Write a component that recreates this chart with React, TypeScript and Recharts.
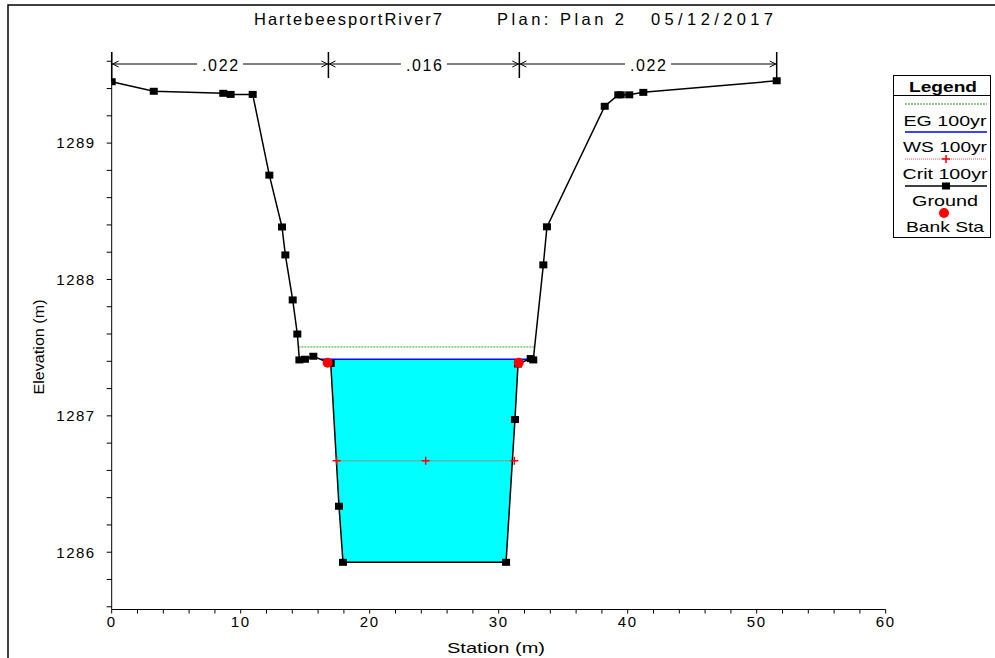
import React from 'react';
import {
  ComposedChart,
  Line,
  Area,
  XAxis,
  YAxis,
  ReferenceLine,
} from 'recharts';

// ground profile (station m, elevation m)
const groundStation = [0, 3.26, 8.65, 9.22, 10.93, 12.22, 13.2, 13.46, 14.03, 14.39, 14.55, 14.98, 15.63, 16.98, 17.62, 17.93, 30.57, 31.26, 31.5, 32.48, 32.68, 33.46, 33.74, 38.22, 39.27, 39.46, 40.12, 41.21, 51.55];
const groundElev = [1289.45, 1289.38, 1289.365, 1289.357, 1289.357, 1288.765, 1288.385, 1288.18, 1287.85, 1287.6, 1287.41, 1287.415, 1287.437, 1287.384, 1286.337, 1285.926, 1285.926, 1286.973, 1287.38, 1287.42, 1287.41, 1288.107, 1288.386, 1289.27, 1289.354, 1289.354, 1289.354, 1289.372, 1289.457];

// water surface, energy grade, critical depth (100yr)
const wsElev = 1287.415;
const wsStation = [16.2, 16.98, 17.62, 17.93, 30.57, 31.26, 31.5, 32.4];
const wsGround = [1287.415, 1287.384, 1286.337, 1285.926, 1285.926, 1286.973, 1287.38, 1287.415];
const egElev = 1287.505;
const egStation = [14.47, 32.79];
const critElev = 1286.67;
const critStation = [17.44, 24.34, 31.21];

// bank stations
const bankStation = [16.74, 31.55];
const bankElev = [1287.39, 1287.39];

// Manning's n regions
const nBreaks = [0, 16.8, 31.6, 51.55];
const nBreakBottom = [1289.45, 1289.477, 1289.477, 1289.46];
const nValues = ['.022', '.016', '.022'];
const nArrowElev = 1289.58;
const nTopElev = 1289.668;

const xTicks = [0, 2, 4, 6, 8, 10, 12, 14, 16, 18, 20, 22, 24, 26, 28, 30, 32, 34, 36, 38, 40, 42, 44, 46, 48, 50, 52, 54, 56, 58, 60];
const yTicks = [1285.6, 1285.8, 1286, 1286.2, 1286.4, 1286.6, 1286.8, 1287, 1287.2, 1287.4, 1287.6, 1287.8, 1288, 1288.2, 1288.4, 1288.6, 1288.8, 1289, 1289.2, 1289.4, 1289.6];

const title = ['HartebeesportRiver7', 'Plan: Plan 2', '05/12/2017'];
const legendItems = ['EG 100yr', 'WS 100yr', 'Crit 100yr', 'Ground', 'Bank Sta'];

const FONT = 'Arial, "Liberation Sans", sans-serif';

const groundData = groundStation.map((x, i) => ({ x, y: groundElev[i] }));
const waterData = wsStation.map((x, i) => ({ x, lo: wsGround[i], hi: wsElev }));
const wsData = [{ x: wsStation[0], y: wsElev }, { x: wsStation[wsStation.length - 1], y: wsElev }];
const egData = egStation.map((x) => ({ x, y: egElev }));
const critData = critStation.map((x) => ({ x, y: critElev }));
const bankData = bankStation.map((x, i) => ({ x, y: bankElev[i] }));

const Square = (props: any) => {
  const { cx, cy, index } = props;
  if (cx == null || cy == null) return null;
  return <rect key={`sq-${index}`} x={cx - 4} y={cy - 3.5} width={8} height={7} fill="#000" />;
};

const Plus = (props: any) => {
  const { cx, cy, index } = props;
  if (cx == null || cy == null) return null;
  return (
    <path
      key={`pl-${index}`}
      d={`M${cx - 4},${cy}H${cx + 4}M${cx},${cy - 4}V${cy + 4}`}
      stroke="#ff0000"
      strokeWidth={1.5}
    />
  );
};

const nArrow = (label: string) => (props: any) => {
  const { x1, y1, x2 } = props;
  const mid = (x1 + x2) / 2;
  return (
    <g>
      <line x1={x1} y1={y1} x2={x2} y2={y1} stroke="#000" strokeWidth={1} />
      <path d={`M${x1 + 7},${y1 - 3}L${x1 + 1},${y1}L${x1 + 7},${y1 + 3}`} fill="none" stroke="#000" strokeWidth={1} />
      <path d={`M${x2 - 7},${y1 - 3}L${x2 - 1},${y1}L${x2 - 7},${y1 + 3}`} fill="none" stroke="#000" strokeWidth={1} />
      <rect x={mid - 23} y={y1 - 8} width={46} height={16} fill="#fff" />
      <text x={mid} y={y1 + 1} textAnchor="middle" dominantBaseline="central" fontFamily={FONT} fontSize={16} textLength={36} lengthAdjust="spacing">
        {label}
      </text>
    </g>
  );
};

const Overlay = () => {
  const lx1 = 905;
  const lx2 = 987;
  const lc = 945;
  const txt = { fontFamily: FONT, fontSize: 15, textAnchor: 'middle' as const, dominantBaseline: 'central' as const, lengthAdjust: 'spacingAndGlyphs' };
  return (
    <svg width={995} height={658} style={{ position: 'absolute', left: 0, top: 0, pointerEvents: 'none' }}>
      <path d="M8,658V5H995" fill="none" stroke="#000" strokeWidth={1.5} />
      <g fontFamily={FONT} fontSize={16.5} dominantBaseline="central">
        <text x={254} y={19} textLength={188} lengthAdjust="spacing">{title[0]}</text>
        <text x={497} y={19} textLength={127} lengthAdjust="spacing">{title[1]}</text>
        <text x={651} y={19} textLength={122} lengthAdjust="spacing">{title[2]}</text>
      </g>
      <text x={496} y={647} {...txt} textLength={98}>Station (m)</text>
      <text x={38} y={347} {...txt} textLength={95} transform="rotate(-90 38 347)">Elevation (m)</text>
      <rect x={893.5} y={75.5} width={97} height={162} fill="#fff" stroke="#000" strokeWidth={1} />
      <text x={lc - 2} y={86} {...txt} fontWeight="bold" textLength={68}>Legend</text>
      <line x1={893.5} y1={95.5} x2={990.5} y2={95.5} stroke="#000" strokeWidth={1} />
      <line x1={lx1} y1={104} x2={lx2} y2={104} stroke="#22aa22" strokeWidth={1} strokeDasharray="2 1" />
      <text x={lc} y={120} {...txt} textLength={83}>{legendItems[0]}</text>
      <line x1={lx1} y1={132} x2={lx2} y2={132} stroke="#0000ff" strokeWidth={1.5} />
      <text x={lc} y={146} {...txt} textLength={84}>{legendItems[1]}</text>
      <line x1={lx1} y1={159} x2={lx2} y2={159} stroke="#ff5555" strokeWidth={1} strokeDasharray="1 1" />
      <path d={`M${946 - 4},159H${946 + 4}M946,155V163`} stroke="#ff0000" strokeWidth={1.5} />
      <text x={lc} y={173} {...txt} textLength={85}>{legendItems[2]}</text>
      <line x1={lx1} y1={186} x2={lx2} y2={186} stroke="#000" strokeWidth={1.5} />
      <rect x={942} y={182.5} width={8} height={7} fill="#000" />
      <text x={lc} y={200} {...txt} textLength={66}>{legendItems[3]}</text>
      <circle cx={944} cy={213} r={5} fill="#ff0000" />
      <text x={lc} y={226} {...txt} textLength={78}>{legendItems[4]}</text>
    </svg>
  );
};

export default function App() {
  const tickStyle = { fill: '#000', fontSize: 15, fontFamily: FONT, letterSpacing: 1.5 };
  return (
    <div style={{ position: 'absolute', left: 0, top: 0, width: 995, height: 658, background: '#fff' }}>
      <ComposedChart
        width={995}
        height={658}
        margin={{ top: 52, right: 109.3, bottom: 18.5, left: 51.7 }}
      >
        <XAxis
          type="number"
          dataKey="x"
          domain={[0, 60]}
          ticks={xTicks}
          allowDataOverflow
          height={30}
          stroke="#000"
          tickSize={4}
          tickMargin={3}
          tick={tickStyle}
          tickFormatter={(v: number) => (v % 10 === 0 ? String(v) : '')}
        />
        <YAxis
          type="number"
          domain={[1285.58, nTopElev]}
          ticks={yTicks}
          allowDataOverflow
          width={60}
          stroke="#000"
          tickSize={5}
          tickMargin={11}
          tick={tickStyle}
          tickFormatter={(v: number) => (Number.isInteger(v) ? String(v) : '')}
        />
        <Area
          data={waterData}
          dataKey={(d: any) => [d.lo, d.hi]}
          type="linear"
          fill="#00ffff"
          fillOpacity={1}
          stroke="none"
          isAnimationActive={false}
        />
        <Line data={egData} dataKey="y" type="linear" stroke="#22aa22" strokeWidth={1} strokeDasharray="2 1" dot={false} isAnimationActive={false} />
        <Line data={wsData} dataKey="y" type="linear" stroke="#0000ff" strokeWidth={1.5} dot={false} isAnimationActive={false} />
        <Line data={critData} dataKey="y" type="linear" stroke="#ff3333" strokeWidth={1} strokeDasharray="1 1" dot={<Plus />} isAnimationActive={false} />
        <Line data={groundData} dataKey="y" type="linear" stroke="#000" strokeWidth={1.5} dot={<Square />} isAnimationActive={false} />
        <Line data={bankData} dataKey="y" type="linear" stroke="none" dot={{ r: 5, fill: '#ff0000', stroke: 'none' }} isAnimationActive={false} />
        {nBreaks.map((b, i) => (
          <ReferenceLine
            key={`nb-${i}`}
            segment={[{ x: b, y: nBreakBottom[i] }, { x: b, y: nTopElev }]}
            stroke="#000"
            strokeWidth={1.5}
          />
        ))}
        {nValues.map((v, i) => (
          <ReferenceLine
            key={`nv-${i}`}
            segment={[{ x: nBreaks[i], y: nArrowElev }, { x: nBreaks[i + 1], y: nArrowElev }]}
            shape={nArrow(v)}
          />
        ))}
      </ComposedChart>
      <Overlay />
    </div>
  );
}
